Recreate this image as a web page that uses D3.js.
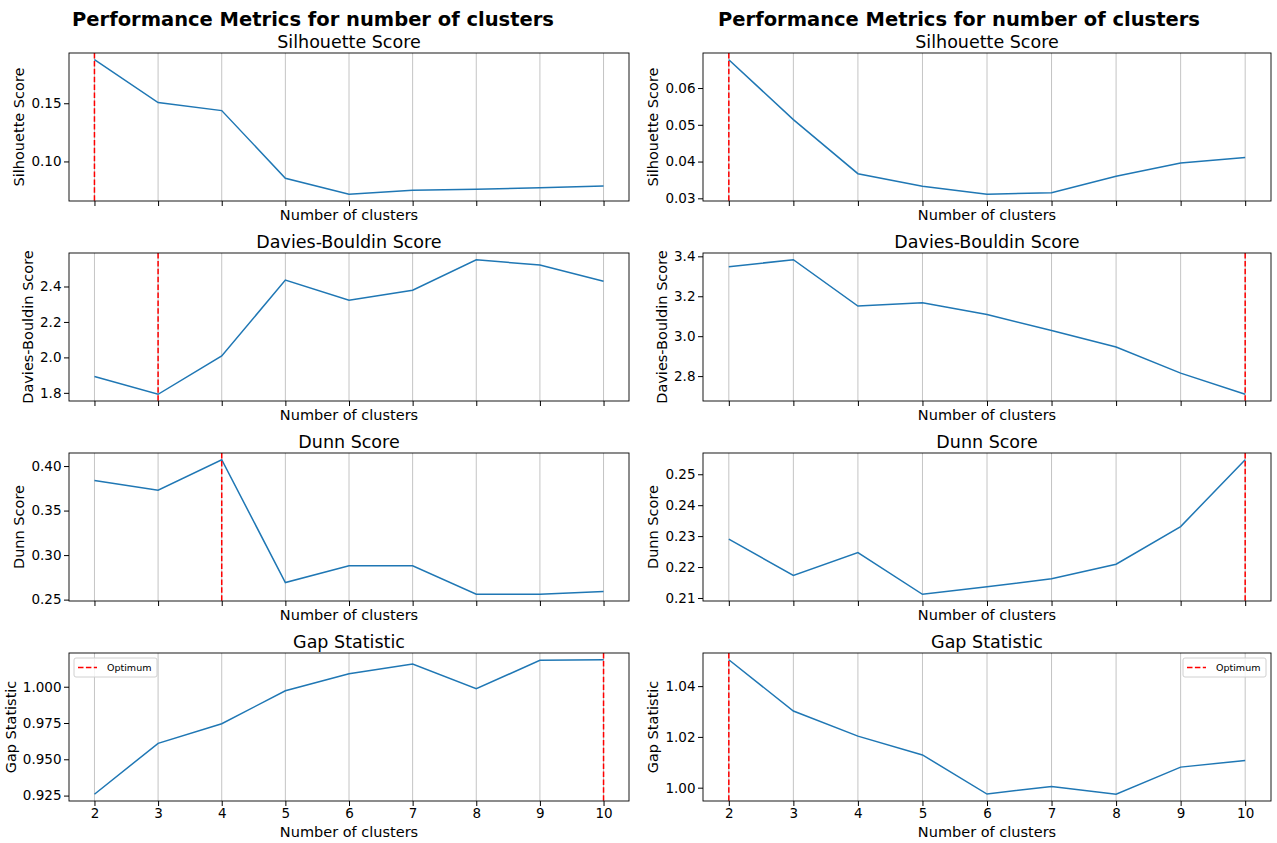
<!DOCTYPE html>
<html>
<head>
<meta charset="utf-8">
<script src="https://cdn.jsdelivr.net/npm/d3@7"></script>
<style>
  body { margin: 0; background: #fff; }
  svg { font-family: "DejaVu Sans", sans-serif; }
</style>
</head>
<body>
<svg id="chart" width="1277" height="843"></svg>
<script>
const clusters = [2, 3, 4, 5, 6, 7, 8, 9, 10];

// left run
const silhouetteLeft = [0.1874, 0.1506, 0.1437, 0.0856, 0.0718, 0.0753, 0.0761, 0.0773, 0.0790];
const daviesLeft = [1.892, 1.792, 2.008, 2.436, 2.323, 2.379, 2.551, 2.521, 2.430];
const dunnLeft = [0.3838, 0.3729, 0.4071, 0.2692, 0.2880, 0.2880, 0.2560, 0.2560, 0.2590];
const gapLeft = [0.9259, 0.9610, 0.9745, 0.9972, 1.0090, 1.0156, 0.9986, 1.0182, 1.0186];

// right run
const silhouetteRight = [0.0677, 0.0514, 0.0367, 0.0333, 0.0311, 0.0315, 0.0360, 0.0396, 0.0411];
const daviesRight = [3.348, 3.383, 3.151, 3.168, 3.109, 3.028, 2.946, 2.815, 2.709];
const dunnRight = [0.2290, 0.2173, 0.2247, 0.2112, 0.2136, 0.2162, 0.2209, 0.2331, 0.2547];
const gapRight = [1.0504, 1.0302, 1.0203, 1.0129, 0.9975, 1.0005, 0.9974, 1.0081, 1.0107];

// y tick values
const silTicksLeft = [0.10, 0.15];
const dbTicksLeft = [1.8, 2.0, 2.2, 2.4];
const dunnTicksLeft = [0.25, 0.30, 0.35, 0.40];
const gapTicksLeft = [0.925, 0.950, 0.975, 1.000];
const silTicksRight = [0.03, 0.04, 0.05, 0.06];
const dbTicksRight = [2.8, 3.0, 3.2, 3.4];
const dunnTicksRight = [0.21, 0.22, 0.23, 0.24, 0.25];
const gapTicksRight = [1.00, 1.02, 1.04];

const svg = d3.select("#chart");

const rowTops = [53, 253, 453, 653];
const panelH = 148;

const columns = [
    { left: 69, right: 629, titleX: 313, legendSide: "left", metrics: [
        { name: "Silhouette Score", values: silhouetteLeft, ticks: silTicksLeft, fmt: ".2f", best: "max" },
        { name: "Davies-Bouldin Score", values: daviesLeft, ticks: dbTicksLeft, fmt: ".1f", best: "min" },
        { name: "Dunn Score", values: dunnLeft, ticks: dunnTicksLeft, fmt: ".2f", best: "max" },
        { name: "Gap Statistic", values: gapLeft, ticks: gapTicksLeft, fmt: ".3f", best: "max" }
    ]},
    { left: 703, right: 1271, titleX: 959, legendSide: "right", metrics: [
        { name: "Silhouette Score", values: silhouetteRight, ticks: silTicksRight, fmt: ".2f", best: "max" },
        { name: "Davies-Bouldin Score", values: daviesRight, ticks: dbTicksRight, fmt: ".1f", best: "min" },
        { name: "Dunn Score", values: dunnRight, ticks: dunnTicksRight, fmt: ".2f", best: "max" },
        { name: "Gap Statistic", values: gapRight, ticks: gapTicksRight, fmt: ".2f", best: "max" }
    ]}
];

columns.forEach(col => {
    svg.append("text")
        .attr("x", col.titleX)
        .attr("y", 26)
        .attr("text-anchor", "middle")
        .style("font-size", "19.5px")
        .style("font-weight", "bold")
        .text("Performance Metrics for number of clusters");

    const w = col.right - col.left;

    col.metrics.forEach((m, i) => {
        const isLast = i === col.metrics.length - 1;
        const g = svg.append("g").attr("transform", `translate(${col.left},${rowTops[i]})`);

        const x = d3.scaleLinear().domain([1.6, 10.4]).range([0, w]);
        const [lo, hi] = d3.extent(m.values);
        const pad = (hi - lo) * 0.05;
        const y = d3.scaleLinear().domain([lo - pad, hi + pad]).range([panelH, 0]);

        // vertical grid
        g.append("g").selectAll("line")
            .data(clusters)
            .join("line")
            .attr("x1", d => x(d)).attr("x2", d => x(d))
            .attr("y1", 0).attr("y2", panelH)
            .attr("stroke", "#b0b0b0")
            .attr("stroke-opacity", 0.75)
            .attr("stroke-width", 1);

        // metric line
        g.append("path")
            .datum(m.values)
            .attr("fill", "none")
            .attr("stroke", "#1f77b4")
            .attr("stroke-width", 1.5)
            .attr("d", d3.line().x((d, j) => x(clusters[j])).y(d => y(d)));

        // optimum
        const idx = m.best === "max" ? d3.maxIndex(m.values) : d3.minIndex(m.values);
        g.append("line")
            .attr("x1", x(clusters[idx])).attr("x2", x(clusters[idx]))
            .attr("y1", 0).attr("y2", panelH)
            .attr("stroke", "#ff0000")
            .attr("stroke-width", 1.5)
            .attr("stroke-dasharray", "5.5,2.4");

        // axes
        const xAxis = g.append("g")
            .attr("transform", `translate(0,${panelH})`)
            .call(d3.axisBottom(x).tickValues(clusters).tickSize(5).tickPadding(2.5)
                .tickFormat(isLast ? d3.format("d") : () => ""));
        xAxis.select(".domain").remove();
        xAxis.selectAll("text").style("font-size", "13.5px").attr("fill", "#000").style("font-family", "DejaVu Sans");

        const yAxis = g.append("g")
            .call(d3.axisLeft(y).tickValues(m.ticks).tickSize(5).tickPadding(2.5).tickFormat(d3.format(m.fmt)));
        yAxis.select(".domain").remove();
        yAxis.selectAll("text").style("font-size", "13.5px").attr("fill", "#000").style("font-family", "DejaVu Sans");

        // frame
        g.append("rect")
            .attr("width", w).attr("height", panelH)
            .attr("fill", "none")
            .attr("stroke", "#000")
            .attr("stroke-width", 0.9);

        // titles and labels
        g.append("text")
            .attr("x", w / 2).attr("y", -5)
            .attr("text-anchor", "middle")
            .style("font-size", "17.5px")
            .text(m.name);

        g.append("text")
            .attr("x", w / 2).attr("y", isLast ? panelH + 36 : panelH + 18.5)
            .attr("text-anchor", "middle")
            .style("font-size", "14.5px")
            .text("Number of clusters");

        const box = yAxis.node().getBBox();
        g.append("text")
            .attr("transform", `translate(${box.x - 7},${panelH / 2}) rotate(-90)`)
            .attr("text-anchor", "middle")
            .style("font-size", "14.5px")
            .text(m.name);

        // legend on the gap panel
        if (isLast) {
            const lw = 83, lh = 19;
            const lx = col.legendSide === "left" ? 5 : w - 5 - lw;
            const lg = g.append("g").attr("transform", `translate(${lx},5)`);
            lg.append("rect")
                .attr("width", lw).attr("height", lh)
                .attr("rx", 2)
                .attr("fill", "#fff").attr("fill-opacity", 0.8)
                .attr("stroke", "#d0d0d0").attr("stroke-width", 1);
            lg.append("line")
                .attr("x1", 4).attr("x2", 23)
                .attr("y1", lh / 2).attr("y2", lh / 2)
                .attr("stroke", "#ff0000").attr("stroke-width", 1.5)
                .attr("stroke-dasharray", "5.5,2.4");
            lg.append("text")
                .attr("x", 33).attr("y", lh / 2 + 3.4)
                .style("font-size", "9.5px")
                .text("Optimum");
        }
    });
});
</script>
</body>
</html>
